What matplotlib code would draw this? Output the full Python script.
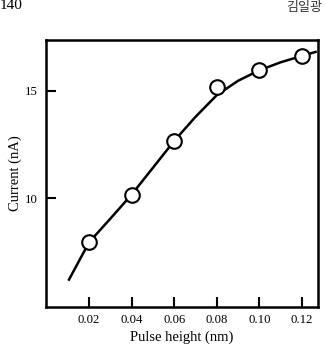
import matplotlib
matplotlib.use("Agg")
import matplotlib.pyplot as plt

# Measured data points
pulse_height = [0.02, 0.04, 0.06, 0.08, 0.10, 0.12]
current = [7.95, 10.15, 12.67, 15.17, 15.96, 16.63]

# Smooth guide curve
curve_x = [0.0103, 0.02, 0.03, 0.04, 0.05, 0.06, 0.07, 0.08, 0.09, 0.10, 0.11, 0.12, 0.127]
curve_y = [6.16, 7.95, 9.05, 10.17, 11.42, 12.67, 13.79, 14.80, 15.47, 15.96, 16.33, 16.63, 16.83]

xticks = [0.02, 0.04, 0.06, 0.08, 0.10, 0.12]
xticklabels = ["0.02", "0.04", "0.06", "0.08", "0.10", "0.12"]
yticks = [10, 15]
yticklabels = ["10", "15"]

plt.rcParams['font.family'] = ['Liberation Serif', 'Noto Sans CJK KR', 'DejaVu Sans']

fig = plt.figure(figsize=(3.25, 3.44), dpi=100)
ax = fig.add_axes([0.1415, 0.1084, 0.8365, 0.7766])

ax.plot(curve_x, curve_y, color='black', lw=1.8, solid_capstyle='butt', zorder=2)
ax.plot(pulse_height, current, linestyle='none', marker='o', ms=10.5,
        mfc='white', mec='black', mew=1.5, zorder=3)

ax.set_xlim(-0.00024, 0.1275)
ax.set_ylim(4.95, 17.39)
ax.set_xticks(xticks)
ax.set_xticklabels(xticklabels)
ax.set_yticks(yticks)
ax.set_yticklabels(yticklabels)
ax.tick_params(direction='in', length=7, width=1.5, labelsize=9.2)
ax.tick_params(axis='x', pad=5.5)
ax.tick_params(axis='y', pad=6)
for s in ax.spines.values():
    s.set_linewidth(1.8)

ax.set_xlabel("Pulse height (nm)", fontsize=10.5, labelpad=3)
ax.set_ylabel("Current (nA)", fontsize=10.5, labelpad=2)

fig.text(0.0, 0.984, "140", fontsize=11, ha='left', va='center')
fig.text(0.992, 0.978, "김일광", fontsize=9.4, ha='right', va='center', color='#333333')

fig.savefig("out.png", dpi=100)
